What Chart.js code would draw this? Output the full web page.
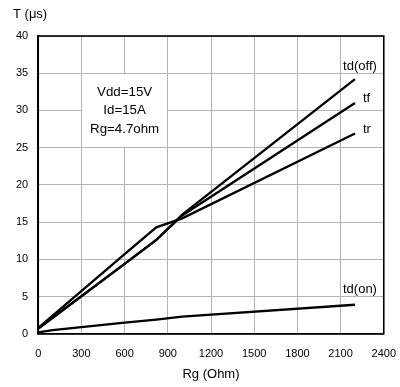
<!DOCTYPE html>
<html>
<head>
<meta charset="utf-8">
<script src="https://cdn.jsdelivr.net/npm/chart.js@4.4.1/dist/chart.umd.min.js"></script>
<style>
  html, body { margin: 0; padding: 0; background: #fff; }
  #wrap { width: 400px; height: 387px; position: relative; }
</style>
</head>
<body>
<div id="wrap"><canvas id="chart"></canvas></div>
<script>
// Switching time vs gate resistance
const rgValues = [0, 100, 600, 820, 1000, 2200];
const tdOff = [0.7, 2.15, 9.4, 12.6, 16.0, 34.2];
const tf = [0.7, 2.15, 9.4, 12.6, 15.9, 31.0];
const tr = [0.8, 2.45, 10.7, 14.3, 15.5, 26.9];
const tdOn = [0.2, 0.5, 1.5, 1.9, 2.3, 3.9];
const seriesLabels = ['td(off)', 'tf', 'tr', 'td(on)'];
const xTicks = [0, 300, 600, 900, 1200, 1500, 1800, 2100, 2400];
const yTicks = [0, 5, 10, 15, 20, 25, 30, 35, 40];
const noteLines = ['Vdd=15V', 'Id=15A', 'Rg=4.7ohm'];

const FONT = '"Liberation Sans", Arial, sans-serif';

function toPoints(values) {
  return rgValues.map((x, i) => ({ x: x, y: values[i] }));
}

// label offsets from the last point of each curve (px)
const labelOffsets = [
  { dx: 5, dy: -13, align: 'center' },
  { dx: 8, dy: -5, align: 'left' },
  { dx: 8, dy: -4, align: 'left' },
  { dx: 5, dy: -15, align: 'center' }
];

const decorPlugin = {
  id: 'decor',
  beforeDatasetsDraw(chart) {
    const ctx = chart.ctx;
    const xs = chart.scales.x;
    const ys = chart.scales.y;
    const area = chart.chartArea;

    // white note box inside the grid cell
    const bx1 = xs.getPixelForValue(300) + 1;
    const bx2 = xs.getPixelForValue(900) - 1;
    const by1 = ys.getPixelForValue(35) + 1;
    const by2 = ys.getPixelForValue(25) - 1;
    ctx.save();
    ctx.fillStyle = '#fff';
    ctx.fillRect(bx1, by1, bx2 - bx1, by2 - by1);
    ctx.fillStyle = '#000';
    ctx.font = '13.3px ' + FONT;
    ctx.textAlign = 'center';
    ctx.textBaseline = 'middle';
    const cx = (bx1 + bx2) / 2;
    const cy = (by1 + by2) / 2;
    noteLines.forEach((t, i) => {
      ctx.fillText(t, cx, cy + (i - 1) * 18.5);
    });

    // full plot frame
    ctx.strokeStyle = '#000';
    ctx.lineWidth = 1.6;
    ctx.strokeRect(area.left, area.top, area.right - area.left, area.bottom - area.top);

    // axis titles
    ctx.font = '13px ' + FONT;
    ctx.textAlign = 'left';
    ctx.fillText('T (\u03bcs)', 13, 14);
    ctx.textAlign = 'center';
    ctx.fillText('Rg (Ohm)', (area.left + area.right) / 2, 374);
    ctx.restore();
  },
  afterDatasetsDraw(chart) {
    const ctx = chart.ctx;
    ctx.save();
    ctx.fillStyle = '#000';
    ctx.font = '13px ' + FONT;
    ctx.textBaseline = 'middle';
    chart.data.datasets.forEach((ds, i) => {
      const meta = chart.getDatasetMeta(i);
      const last = meta.data[meta.data.length - 1];
      const o = labelOffsets[i];
      ctx.textAlign = o.align;
      ctx.fillText(ds.label, last.x + o.dx, last.y + o.dy);
    });
    ctx.restore();
  }
};

const seriesData = [tdOff, tf, tr, tdOn];

new Chart(document.getElementById('chart'), {
  type: 'line',
  data: {
    datasets: seriesData.map((vals, i) => ({
      label: seriesLabels[i],
      data: toPoints(vals),
      borderColor: '#000',
      borderWidth: 2.3,
      pointRadius: 0,
      tension: 0,
      fill: false
    }))
  },
  options: {
    responsive: true,
    maintainAspectRatio: false,
    animation: false,
    layout: { padding: { left: 6, right: 0, top: 36, bottom: 22 } },
    plugins: {
      legend: { display: false },
      tooltip: { enabled: false }
    },
    scales: {
      x: {
        type: 'linear',
        min: 0,
        max: 2400,
        afterBuildTicks(axis) { axis.ticks = xTicks.map(v => ({ value: v })); },
        grid: { color: '#b4b4b4', lineWidth: 1, drawTicks: true, tickLength: 10, tickColor: 'rgba(0,0,0,0)' },
        border: { display: true, color: '#000', width: 1.6 },
        ticks: { color: '#000', font: { family: FONT, size: 11 }, padding: 4, maxRotation: 0, callback: v => String(v) }
      },
      y: {
        min: 0,
        max: 40,
        afterBuildTicks(axis) { axis.ticks = yTicks.map(v => ({ value: v })); },
        grid: { color: '#b4b4b4', lineWidth: 1, drawTicks: false },
        border: { display: true, color: '#000', width: 1.6 },
        ticks: { color: '#000', font: { family: FONT, size: 11 }, padding: 10 }
      }
    }
  },
  plugins: [decorPlugin]
});
</script>
</body>
</html>
